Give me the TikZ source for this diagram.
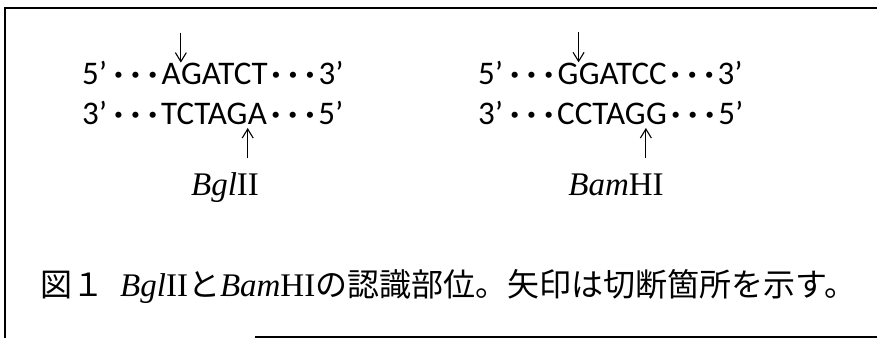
\documentclass[tikz,border=0pt]{standalone}
\usepackage{fontspec}
\setmainfont{Liberation Serif}
\newfontfamily\dnafont{Carlito}
\newfontfamily\jpfont{Noto Sans CJK JP}
\usetikzlibrary{arrows.meta}
\newcommand\onedot{\makebox[17pt]{\bfseries ·}}
\newcommand\dts{\onedot\onedot\onedot}
\tikzset{
  seq/.style={font=\dnafont\fontsize{33}{33}\selectfont, inner sep=0pt, anchor=base west},
  cutarrow/.style={-{Straight Barb[length=9pt,width=11pt]}, line width=1.1pt},
  enzyme/.style={font=\fontsize{33}{33}\selectfont, inner sep=0pt, anchor=base},
  caption/.style={font=\jpfont\fontsize{32}{32}\selectfont, inner sep=0pt, anchor=base west},
  frameline/.style={line width=1.6pt}
}
\begin{document}
\begin{tikzpicture}[x=1pt,y=-1pt]
\useasboundingbox (0,0) rectangle (877,338);
% frame
\draw[frameline] (5,338) -- (5,8) -- (877,8);
\draw[frameline] (255,337) -- (877,337);

% BglII
\node[seq] (b1l) at (82,84) {5’\hspace{3pt}\dts};
\node[seq] (b1c) at (b1l.base east) {A};
\node[seq] (b1r) at (b1c.base east) {GATCT\dts 3’};
\node[seq] (b2l) at (82,124) {3’\hspace{3pt}\dts TCTAG};
\node[seq] (b2c) at (b2l.base east) {A};
\node[seq] (b2r) at (b2c.base east) {\dts 5’};
\coordinate (b1t) at ([yshift=30pt]b1c.north east);
\draw[cutarrow] (b1t) -- (b1c.north east);
\coordinate (b2t) at ([yshift=-34pt]b2c.base west);
\draw[cutarrow] (b2t) -- ([yshift=-4pt]b2c.base west);
\node[enzyme] (bgl) at (225,195) {\textit{Bgl}II};

% BamHI
\node[seq] (h1l) at (478,84) {5’\hspace{3pt}\dts};
\node[seq] (h1c) at (h1l.base east) {G};
\node[seq] (h1r) at (h1c.base east) {GATCC\dts 3’};
\node[seq] (h2l) at (478,124) {3’\hspace{3pt}\dts CCTAG};
\node[seq] (h2c) at (h2l.base east) {G};
\node[seq] (h2r) at (h2c.base east) {\dts 5’};
\coordinate (h1t) at ([yshift=30pt]h1c.north east);
\draw[cutarrow] (h1t) -- (h1c.north east);
\coordinate (h2t) at ([yshift=-34pt]h2c.base west);
\draw[cutarrow] (h2t) -- ([yshift=-4pt]h2c.base west);
\node[enzyme] (bam) at (616,195) {\textit{Bam}HI};

% caption
\node[caption] (cap) at (40,296) {図１\hspace{16pt}{\rmfamily\fontsize{33}{33}\selectfont\textit{Bgl}II}と{\rmfamily\fontsize{33}{33}\selectfont\textit{Bam}HI}の認識部位。矢印は切断箇所を示す。};
\end{tikzpicture}
\end{document}
